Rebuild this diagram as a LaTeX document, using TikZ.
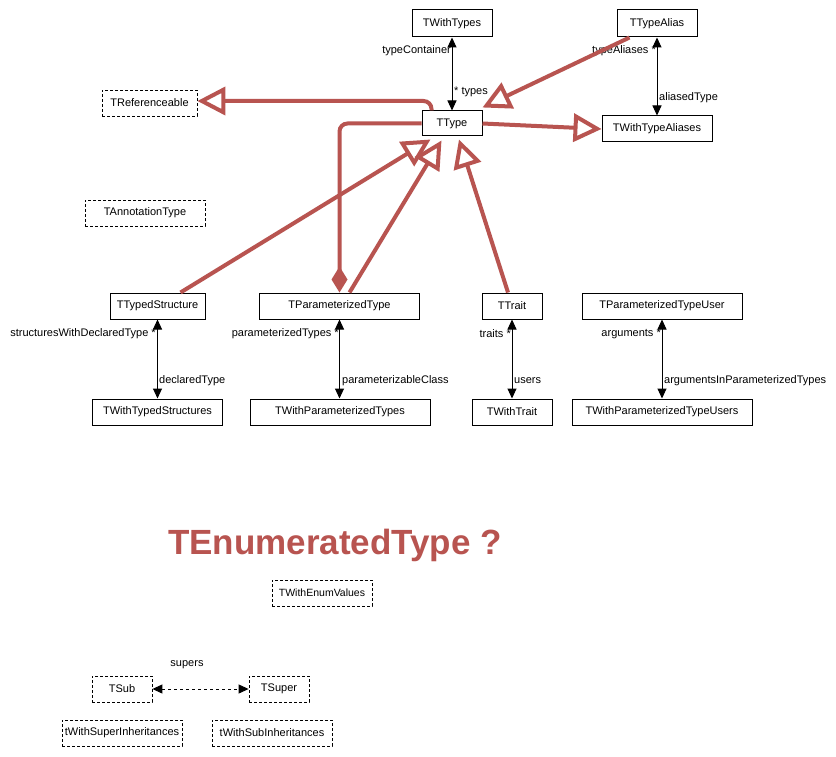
\documentclass[tikz,border=0pt]{standalone}
\usepackage{fontspec}
\setmainfont{Liberation Sans}
\usetikzlibrary{arrows.meta,calc}
\definecolor{redline}{HTML}{B85450}
\begin{document}
\begin{tikzpicture}[x=1pt,y=-1pt,
  box/.style={draw=black, line width=1pt, minimum height=26pt, inner sep=0pt, font=\fontsize{11}{13}\selectfont, fill=white},
  dbox/.style={box, dash pattern=on 3pt off 2pt, line width=0.8pt},
  lbl/.style={inner sep=0pt, font=\fontsize{11}{13}\selectfont},
  assoc/.style={line width=1pt, {Triangle[length=10pt,width=9pt]}-{Triangle[length=10pt,width=9pt]}},
  dassoc/.style={assoc, dash pattern=on 3pt off 3pt},
  gen/.style={draw=redline, line width=4pt, -{Triangle[open,length=28pt,width=28pt,fill=white]}},
  comp/.style={draw=redline, line width=4pt, rounded corners=8pt, -{Diamond[length=26pt,width=16pt,fill=redline]}}
]
\useasboundingbox (0,0) rectangle (836,757);
\fill[white] (0,0) rectangle (836,757);

% nodes
\node[box, minimum width=80pt, minimum height=27pt] (TWithTypes) at (452,23.5) {TWithTypes};
\node[box, minimum width=80pt, minimum height=27pt] (TTypeAlias) at (657,23.5) {TTypeAlias};
\node[dbox, minimum width=95pt] (TReferenceable) at (149.5,103) {TReferenceable};
\node[box, minimum width=60pt, minimum height=25pt] (TType) at (452,123.5) {TType};
\node[box, minimum width=110pt] (TWithTypeAliases) at (657,129) {TWithTypeAliases};
\node[dbox, minimum width=120pt] (TAnnotationType) at (145,213) {TAnnotationType};
\node[box, minimum width=95pt] (TTypedStructure) at (157.5,306) {TTypedStructure};
\node[box, minimum width=160pt] (TParameterizedType) at (339.5,306) {TParameterizedType};
\node[box, minimum width=60pt] (TTrait) at (512,306) {TTrait};
\node[box, minimum width=160pt] (TParameterizedTypeUser) at (662,306) {TParameterizedTypeUser};
\node[box, minimum width=130pt] (TWithTypedStructures) at (157.5,412) {TWithTypedStructures};
\node[box, minimum width=180pt] (TWithParameterizedTypes) at (340,412) {TWithParameterizedTypes};
\node[box, minimum width=80pt] (TWithTrait) at (512,412) {TWithTrait};
\node[box, minimum width=180pt] (TWithParameterizedTypeUsers) at (662,412) {TWithParameterizedTypeUsers};
\node[inner sep=0pt, anchor=base, text=redline, font=\fontsize{35}{40}\selectfont\bfseries] (TEnum) at (335,554) {TEnumeratedType ?};
\node[dbox, minimum width=100pt, font=\fontsize{10.5}{12}\selectfont] (TWithEnumValues) at (322,593) {TWithEnumValues};
\node[dbox, minimum width=60pt] (TSub) at (122,689) {TSub};
\node[dbox, minimum width=60pt] (TSuper) at (279,689) {TSuper};
\node[dbox, minimum width=120pt] (tWithSuperInheritances) at (122,733) {tWithSuperInheritances};
\node[dbox, minimum width=120pt] (tWithSubInheritances) at (272,733) {tWithSubInheritances};

% associations
\draw[assoc] (TWithTypes.south) -- (TType.north);
\draw[assoc] (TTypeAlias.south) -- (TWithTypeAliases.north);
\draw[assoc] (TTypedStructure.south) -- (TWithTypedStructures.north);
\draw[assoc] (TParameterizedType.south) -- (TParameterizedType.south |- TWithParameterizedTypes.north);
\draw[assoc] (TTrait.south) -- (TWithTrait.north);
\draw[assoc] (TParameterizedTypeUser.south) -- (TWithParameterizedTypeUsers.north);
\draw[dassoc] (TSub.east) -- (TSuper.west);

% labels
\node[lbl, anchor=east] (l1) at (451,51) {typeContainer};
\node[lbl, anchor=west] (l2) at (454,92) {* types};
\node[lbl, anchor=east] (l3) at (656,51) {typeAliases *};
\node[lbl, anchor=west] (l4) at (659,98) {aliasedType};
\node[lbl, anchor=east] (l5) at (156,334) {structuresWithDeclaredType *};
\node[lbl, anchor=west] (l6) at (159,381) {declaredType};
\node[lbl, anchor=east] (l7) at (339,334) {parameterizedTypes *};
\node[lbl, anchor=west] (l8) at (342,381) {parameterizableClass};
\node[lbl, anchor=east] (l9) at (511,334) {traits *};
\node[lbl, anchor=west] (l10) at (514,381) {users};
\node[lbl, anchor=east] (l11) at (661,334) {arguments *};
\node[lbl, anchor=west] (l12) at (664,381) {argumentsInParameterizedTypes};
\node[lbl] (l13) at (187,665) {supers};

% generalizations
\draw[gen, rounded corners=8pt] ([xshift=10pt]TType.north west) |- ([yshift=2pt]TReferenceable.east);
\draw[gen] ([xshift=13pt]TTypeAlias.south west) -- ([yshift=3pt]TType.north east);
\draw[gen] (TType.east) -- (TWithTypeAliases.west);
\draw[comp] (TType.west) -| (TParameterizedType.north);
\draw[gen] ([xshift=23pt]TTypedStructure.north) -- ([xshift=9pt,yshift=-3pt]TType.south west);
\draw[gen] ([xshift=10pt]TParameterizedType.north) -- ([xshift=20pt,yshift=-4pt]TType.south west);
\draw[gen] ([xshift=-4pt]TTrait.north) -- ([xshift=7pt,yshift=-3pt]TType.south);
\end{tikzpicture}
\end{document}
